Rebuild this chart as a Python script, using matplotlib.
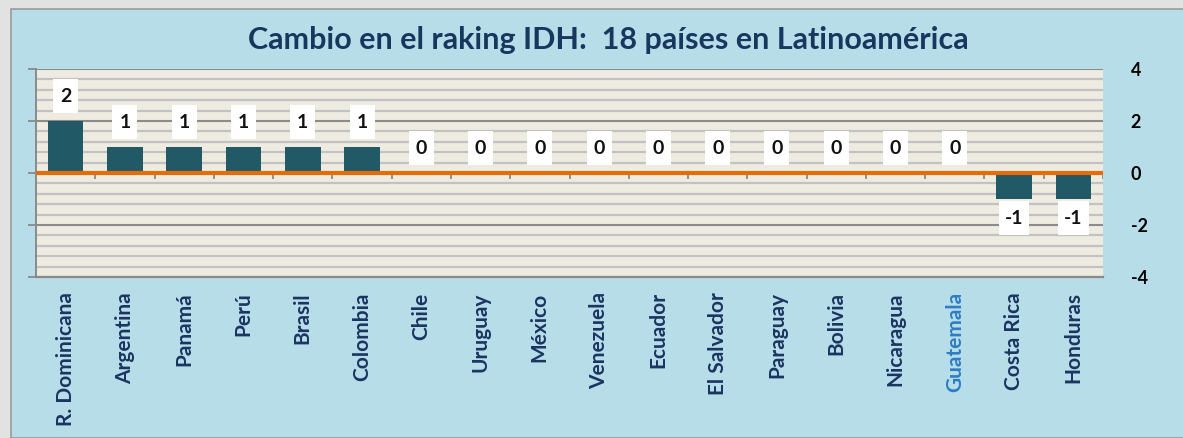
import numpy as np
import matplotlib.pyplot as plt
from matplotlib.patches import Rectangle
from matplotlib.path import Path

# datos
paises = ['R. Dominicana', 'Argentina', 'Panamá', 'Perú', 'Brasil', 'Colombia',
          'Chile', 'Uruguay', 'México', 'Venezuela', 'Ecuador', 'El Salvador',
          'Paraguay', 'Bolivia', 'Nicaragua', 'Guatemala', 'Costa Rica', 'Honduras']
cambio = [2, 1, 1, 1, 1, 1, 0, 0, 0, 0, 0, 0, 0, 0, 0, 0, -1, -1]
resaltado = 'Guatemala'
yticks = [-4, -2, 0, 2, 4]

plt.rcParams['font.family'] = ['Lato', 'DejaVu Sans']


def caja(x0, y0, width, height, mutation_size):
    # caja blanca de tamaño fijo alrededor de la etiqueta (en pixeles)
    w = max(width + 12, 25)
    h = 34
    cx = x0 + width / 2
    cy = y0 + height / 2
    return Path([(cx - w/2, cy - h/2), (cx + w/2, cy - h/2), (cx + w/2, cy + h/2),
                 (cx - w/2, cy + h/2), (cx - w/2, cy - h/2)], closed=True)


fig = plt.figure(figsize=(11.83, 4.38), dpi=100)
fig.patch.set_facecolor('#e2e2e2')
# fondo azul del grafico
fig.patches.append(Rectangle((11/1183, 0), 1, 1 - 9/438, transform=fig.transFigure,
                             facecolor='#b7dde8', edgecolor='#9a9a9a', linewidth=1.2, zorder=-10))

ax = fig.add_axes([36/1183, 1 - 277/438, (1103 - 36)/1183, (277 - 69)/438])
ax.set_facecolor('#eeece1')

x = np.arange(len(paises))
ax.bar(x, cambio, width=0.6, color='#215967', zorder=3)

ax.set_xlim(-0.5, len(paises) - 0.5)
ax.set_ylim(-4, 4)

# rejilla
for v in np.arange(-4, 4.01, 0.4):
    ax.axhline(v, color='#c2c2c2', linewidth=1.6, zorder=1)
for v in yticks:
    ax.axhline(v, color='#8a8a8a', linewidth=1.4, zorder=1)
ax.axhline(0, color='#e46c0a', linewidth=3, zorder=4)

# marcas del eje x sobre la linea cero
ax.vlines(x + 0.5, -0.23, 0, color='#8a8a8a', linewidth=1.3, zorder=2)

# etiquetas de valor
for xi, v in zip(x, cambio):
    off = 25 if v >= 0 else -19
    ax.annotate(str(v), (xi, v), xytext=(0, off), textcoords='offset pixels',
                ha='center', va='center', fontsize=14, fontweight='bold', color='#111111',
                bbox=dict(boxstyle=caja, facecolor='white', edgecolor='none'),
                zorder=5)

ax.set_yticks(yticks)
ax.set_yticklabels([str(t) for t in yticks])
ax.tick_params(axis='y', left=True, right=False, labelleft=False, labelright=True,
               length=6, width=1.3, color='#8a8a8a', pad=14, labelsize=13)
for lbl in ax.get_yticklabels():
    lbl.set_fontweight('bold')

ax.set_xticks(x)
ax.set_xticklabels(paises, rotation=90, fontsize=15, fontweight='bold', color='#1b3561')
ax.tick_params(axis='x', length=0, pad=11)
for lbl in ax.get_xticklabels():
    if lbl.get_text() == resaltado:
        lbl.set_color('#2e7dc4')

for s in ['top', 'right']:
    ax.spines[s].set_visible(False)
ax.spines['left'].set_color('#8a8a8a')
ax.spines['left'].set_linewidth(1.4)
ax.spines['bottom'].set_color('#8a8a8a')
ax.spines['bottom'].set_linewidth(1.6)

fig.text(608/1183, 1 - 40/438, 'Cambio en el raking IDH:  18 países en Latinoamérica',
         ha='center', va='center', fontsize=22, fontweight='bold', color='#17375e')

plt.savefig('out.png', dpi=100, facecolor=fig.get_facecolor())
